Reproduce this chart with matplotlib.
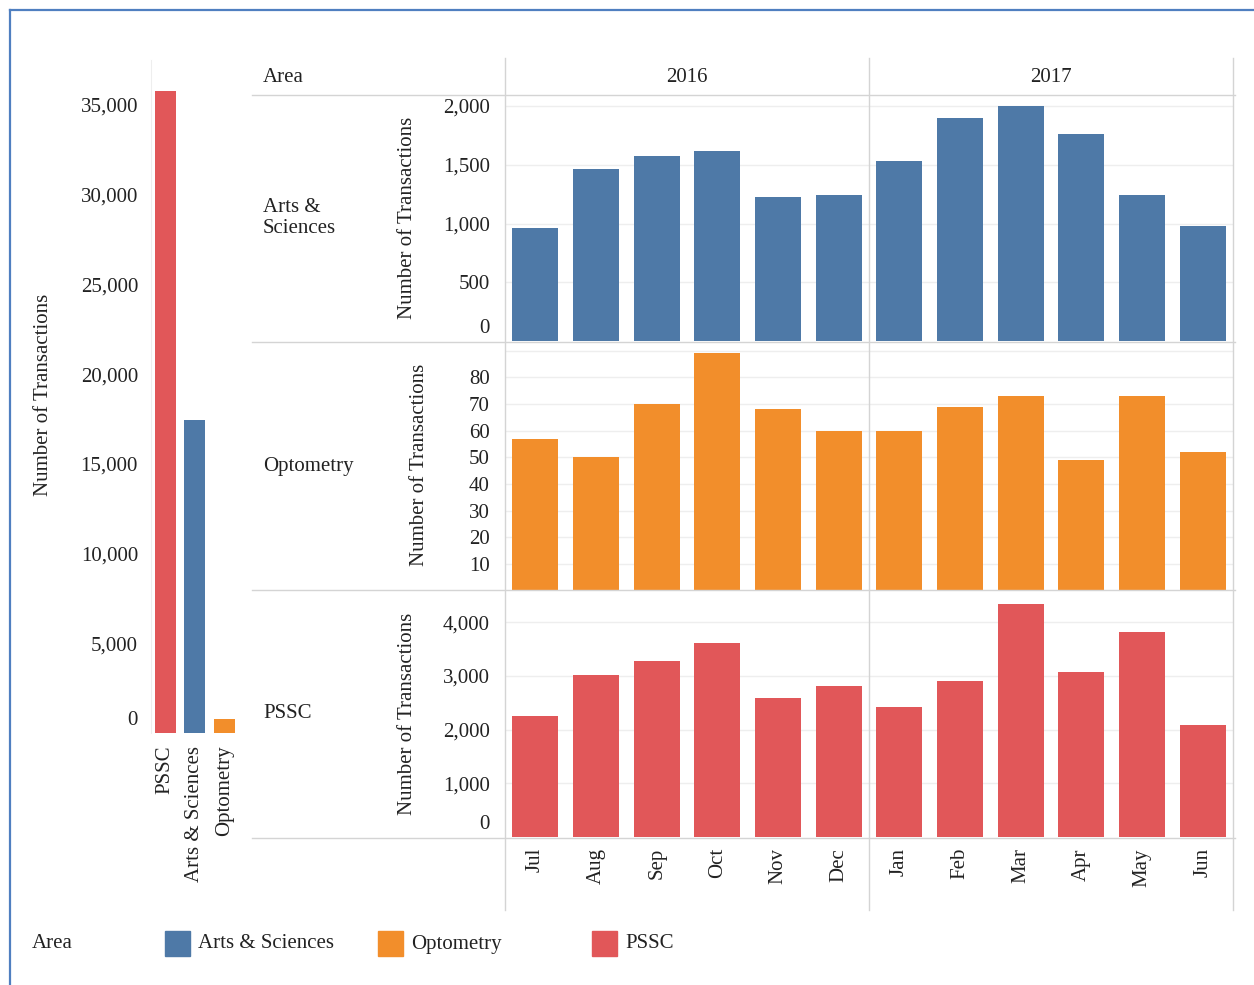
import matplotlib.pyplot as plt
from matplotlib.lines import Line2D
from matplotlib.patches import Rectangle
from matplotlib.ticker import FuncFormatter

plt.rcParams['font.family'] = ['Liberation Serif', 'DejaVu Serif']
plt.rcParams['font.size'] = 15

# data
months = ['Jul', 'Aug', 'Sep', 'Oct', 'Nov', 'Dec', 'Jan', 'Feb', 'Mar', 'Apr', 'May', 'Jun']
years = ['2016', '2017']
areas = ['Arts & Sciences', 'Optometry', 'PSSC']
arts = [965, 1467, 1575, 1621, 1224, 1239, 1530, 1895, 2000, 1761, 1239, 982]
optometry = [57, 50, 70, 89, 68, 60, 60, 69, 73, 49, 73, 52]
pssc = [2260, 3020, 3280, 3620, 2590, 2820, 2420, 2900, 4340, 3080, 3820, 2090]
total_areas = ['PSSC', 'Arts & Sciences', 'Optometry']
total_values = [35800, 17450, 800]

colors = {'Arts & Sciences': '#4e79a7', 'Optometry': '#f28e2b', 'PSSC': '#e15759'}
line_col = '#d4d4d4'
grid_col = '#eeeeee'
txt_col = '#222222'

W, H = 1254, 985
fig = plt.figure(figsize=(W / 100, H / 100), dpi=100)


def box(x0, y0, x1, y1):
    return [x0 / W, 1 - y1 / H, (x1 - x0) / W, (y1 - y0) / H]


def fx(x):
    return x / W


def fy(y):
    return 1 - y / H


thousands = FuncFormatter(lambda v, p: f'{v:,.0f}')


def zero_label(ax, pad):
    ax.annotate('0', xy=(0, 0), xycoords=('axes fraction', 'data'),
                xytext=(-pad, 2), textcoords='offset points',
                ha='right', va='bottom', color=txt_col)


# left totals chart
axl = fig.add_axes(box(150.5, 60, 239, 733))
axl.bar(range(3), total_values, width=0.72,
        color=[colors[a] for a in total_areas])
axl.set_xlim(-0.5, 2.5)
axl.set_ylim(0, 37500)
axl.set_yticks(range(5000, 35001, 5000))
axl.yaxis.set_major_formatter(thousands)
axl.set_xticks(range(3))
axl.set_xticklabels(total_areas, rotation=90)
axl.tick_params(length=0, colors=txt_col)
axl.tick_params(axis='y', pad=9)
axl.tick_params(axis='x', pad=9)
for s in ['top', 'right', 'bottom']:
    axl.spines[s].set_visible(False)
axl.spines['left'].set_color('#eeeeee')
zero_label(axl, 9)
fig.text(fx(43), fy(395), 'Number of Transactions', rotation=90,
         ha='center', va='center', color=txt_col)

# right small multiples
rows = [
    ('Arts & Sciences', arts, 95, 341, 2094, [500, 1000, 1500, 2000], 407, 218, 'Arts &\nSciences'),
    ('Optometry', optometry, 342, 590.7, 93.3, list(range(10, 81, 10)), 419, 465, 'Optometry'),
    ('PSSC', pssc, 590, 837, 4602, [1000, 2000, 3000, 4000], 407, 714, 'PSSC'),
]
for i, (area, vals, top, bot, ymax, ticks, ylab_x, ylab_y, row_label) in enumerate(rows):
    ax = fig.add_axes(box(505, top, 1233, bot))
    ax.bar(range(12), vals, width=0.76, color=colors[area], zorder=2)
    ax.set_xlim(-0.5, 11.5)
    ax.set_ylim(0, ymax)
    ax.set_yticks(ticks)
    ax.yaxis.set_major_formatter(thousands)
    ax.yaxis.grid(True, color=grid_col, lw=1, zorder=0)
    if area == 'Optometry':
        ax.axhline(90, color=grid_col, lw=1, zorder=0)
    else:
        zero_label(ax, 11)
    ax.tick_params(length=0, colors=txt_col)
    ax.tick_params(axis='y', pad=11)
    for s in ax.spines.values():
        s.set_visible(False)
    if i == len(rows) - 1:
        ax.set_xticks(range(12))
        ax.set_xticklabels(months, rotation=90)
        ax.tick_params(axis='x', pad=8)
    else:
        ax.set_xticks([])
    fig.text(fx(ylab_x), fy(ylab_y), 'Number of Transactions', rotation=90,
             ha='center', va='center', color=txt_col)
    fig.text(fx(263), fy((top + bot) / 2), row_label, ha='left', va='center',
             color=txt_col, linespacing=1.1)

# header
fig.text(fx(263), fy(77), 'Area', ha='left', va='center', color=txt_col)
fig.text(fx(687), fy(77), years[0], ha='center', va='center', color=txt_col)
fig.text(fx(1051), fy(77), years[1], ha='center', va='center', color=txt_col)

# table lines
for y in [95, 342, 590, 838]:
    fig.add_artist(Line2D([fx(252), fx(1235)], [fy(y), fy(y)], color=line_col, lw=1))
for x in [505, 869, 1233]:
    fig.add_artist(Line2D([fx(x), fx(x)], [fy(58), fy(910)], color=line_col, lw=1))

# legend
fig.text(fx(32), fy(944), 'Area', ha='left', va='center', color=txt_col)
for area, x0 in zip(areas, [165, 378, 592]):
    fig.add_artist(Rectangle((fx(x0), fy(956)), 25 / W, 25 / H,
                             transform=fig.transFigure, color=colors[area]))
    fig.text(fx(x0 + 33), fy(944), area, ha='left', va='center', color=txt_col)

# page frame
frame = '#4f7fc0'
fig.add_artist(Line2D([fx(10), fx(10)], [fy(10), 0], color=frame, lw=1.6))
fig.add_artist(Line2D([fx(10), 1], [fy(10), fy(10)], color=frame, lw=1.6))

fig.savefig('out.png', dpi=100)
